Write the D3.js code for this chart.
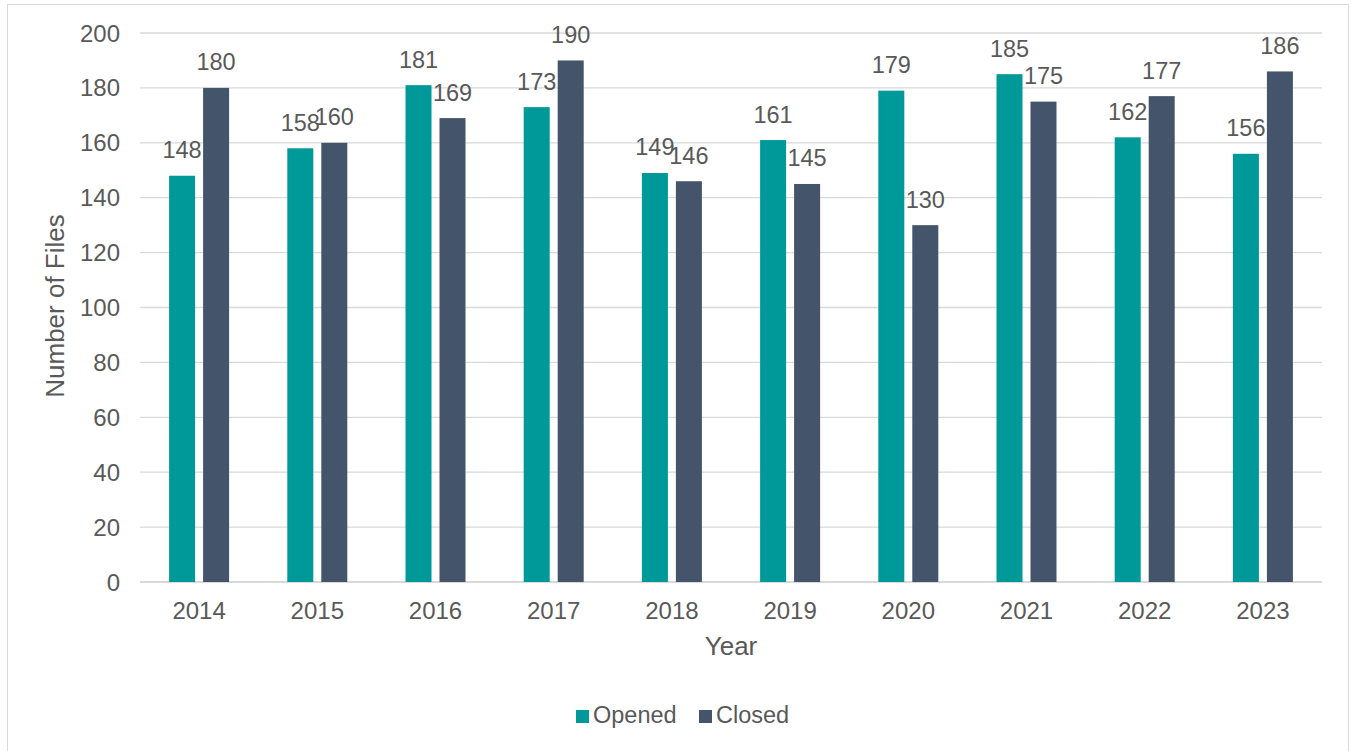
<!DOCTYPE html>
<html>
<head>
<meta charset="utf-8">
<script src="https://cdn.jsdelivr.net/npm/d3@7"></script>
<style>
  body { margin: 0; background: #fff; }
  text { font-family: "Liberation Sans", Arial, sans-serif; fill: #595959; }
</style>
</head>
<body>
<script>
var years = ["2014", "2015", "2016", "2017", "2018", "2019", "2020", "2021", "2022", "2023"];
var openedVals = [148, 158, 181, 173, 149, 161, 179, 185, 162, 156];
var closedVals = [180, 160, 169, 190, 146, 145, 130, 175, 177, 186];
var seriesNames = ["Opened", "Closed"];
var colors = ["#009999", "#44546A"];
var yTicks = [0, 20, 40, 60, 80, 100, 120, 140, 160, 180, 200];

var w = 1351, h = 751;
var svg = d3.select("body").append("svg").attr("width", w).attr("height", h);

// chart frame
svg.append("rect").attr("x", 7.5).attr("y", 4.5).attr("width", 1341).attr("height", 760)
    .attr("fill", "#fff").attr("stroke", "#d9d9d9").attr("stroke-width", 1);

var xS = d3.scaleBand().domain(years).range([140, 1322]);
var yS = d3.scaleLinear().domain([0, 200]).range([582, 33]);
// two bars per year, ~26px wide with an 8px gap
var inner = d3.scaleBand().domain(seriesNames).range([-30, 30]).paddingInner(0.235);

// gridlines
svg.append("g").selectAll("line").data(yTicks).enter().append("line")
    .attr("x1", 140).attr("x2", 1322)
    .attr("y1", function(d) { return yS(d); })
    .attr("y2", function(d) { return yS(d); })
    .attr("stroke", "#d9d9d9").attr("stroke-width", function(d) { return d === 0 ? 2 : 1.3; });

// y tick labels
svg.append("g").selectAll("text").data(yTicks).enter().append("text")
    .text(function(d) { return d; })
    .attr("x", 120).attr("y", function(d) { return yS(d) + 8.5; })
    .attr("text-anchor", "end").attr("font-size", "24px");

// x tick labels
svg.append("g").selectAll("text").data(years).enter().append("text")
    .text(function(d) { return d; })
    .attr("x", function(d) { return xS(d) + xS.bandwidth() / 2; })
    .attr("y", 619).attr("text-anchor", "middle").attr("font-size", "24px");

var data = [openedVals, closedVals];
seriesNames.forEach(function(s, si) {
    var g = svg.append("g");
    g.selectAll("rect").data(years).enter().append("rect")
        .attr("x", function(d) { return xS(d) + xS.bandwidth() / 2 + inner(s); })
        .attr("width", inner.bandwidth())
        .attr("y", function(d, i) { return yS(data[si][i]); })
        .attr("height", function(d, i) { return yS(0) - yS(data[si][i]); })
        .attr("fill", colors[si]);
    g.selectAll("text").data(years).enter().append("text")
        .text(function(d, i) { return data[si][i]; })
        .attr("x", function(d) { return xS(d) + xS.bandwidth() / 2 + inner(s) + inner.bandwidth() / 2; })
        .attr("y", function(d, i) { return yS(data[si][i]) - 17.5; })
        .attr("text-anchor", "middle").attr("font-size", "23.5px");
});

// axis titles
svg.append("text").text("Number of Files")
    .attr("transform", "translate(64,306) rotate(-90)")
    .attr("text-anchor", "middle").attr("font-size", "26px");
svg.append("text").text("Year")
    .attr("x", 731).attr("y", 655).attr("text-anchor", "middle").attr("font-size", "26px");

// legend
var legend = svg.append("g");
var lx = [576, 699];
seriesNames.forEach(function(s, i) {
    legend.append("rect").attr("x", lx[i]).attr("y", 710).attr("width", 13).attr("height", 13).attr("fill", colors[i]);
    legend.append("text").text(s).attr("x", lx[i] + 17).attr("y", 723).attr("font-size", "23.5px");
});
</script>
</body>
</html>
